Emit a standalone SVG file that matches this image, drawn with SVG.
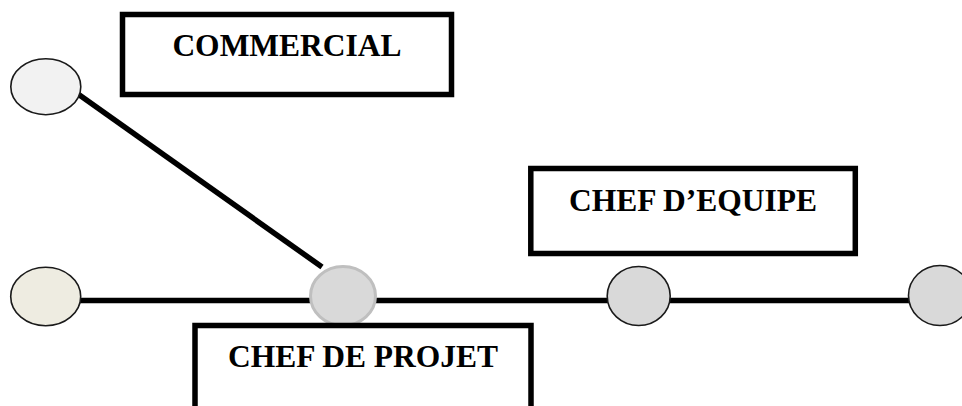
<svg xmlns="http://www.w3.org/2000/svg" width="962" height="406" viewBox="0 0 962 406">
  <style>
    .link { stroke: #000; stroke-width: 5.5; fill: none; }
    .dot { stroke: #1a1a1a; stroke-width: 1.6; }
    .box { fill: #fff; stroke: #000; stroke-width: 5.5; }
    .label { font-family: "Liberation Serif", "Times New Roman", serif; font-weight: bold; font-size: 31.5px; fill: #000; text-anchor: middle; }
  </style>
  <rect width="962" height="406" fill="#fff"/>

  <!-- connectors -->
  <g id="connectors">
    <line class="link" x1="78" y1="94" x2="322" y2="267"/>
    <line class="link" x1="60" y1="300.5" x2="930" y2="300.5"/>
  </g>

  <!-- circle nodes -->
  <g id="node-top-left">
    <ellipse class="dot" cx="45.8" cy="86.7" rx="35" ry="28" fill="#f2f2f2"/>
  </g>
  <g id="node-bottom-left">
    <ellipse class="dot" cx="45.7" cy="296.5" rx="35" ry="29.3" fill="#eeece1"/>
  </g>
  <g id="node-center">
    <ellipse cx="343" cy="296" rx="32.5" ry="29.5" fill="#d9d9d9" stroke="#bfbfbf" stroke-width="3"/>
  </g>
  <g id="node-right-1">
    <ellipse class="dot" cx="638.7" cy="296" rx="31.5" ry="29.5" fill="#d9d9d9"/>
  </g>
  <g id="node-right-2">
    <ellipse class="dot" cx="940" cy="295.5" rx="31.5" ry="30" fill="#d9d9d9"/>
  </g>

  <!-- label boxes -->
  <g id="commercial">
    <rect class="box" x="122.5" y="14.5" width="329" height="80"/>
    <text class="label" x="287" y="56">COMMERCIAL</text>
  </g>
  <g id="chef-equipe">
    <rect class="box" x="530.8" y="168.5" width="324.5" height="85"/>
    <text class="label" x="693" y="210.7">CHEF D’EQUIPE</text>
  </g>
  <g id="chef-projet">
    <rect class="box" x="195" y="325.5" width="336" height="100"/>
    <text class="label" x="363" y="366.7">CHEF DE PROJET</text>
  </g>
</svg>
